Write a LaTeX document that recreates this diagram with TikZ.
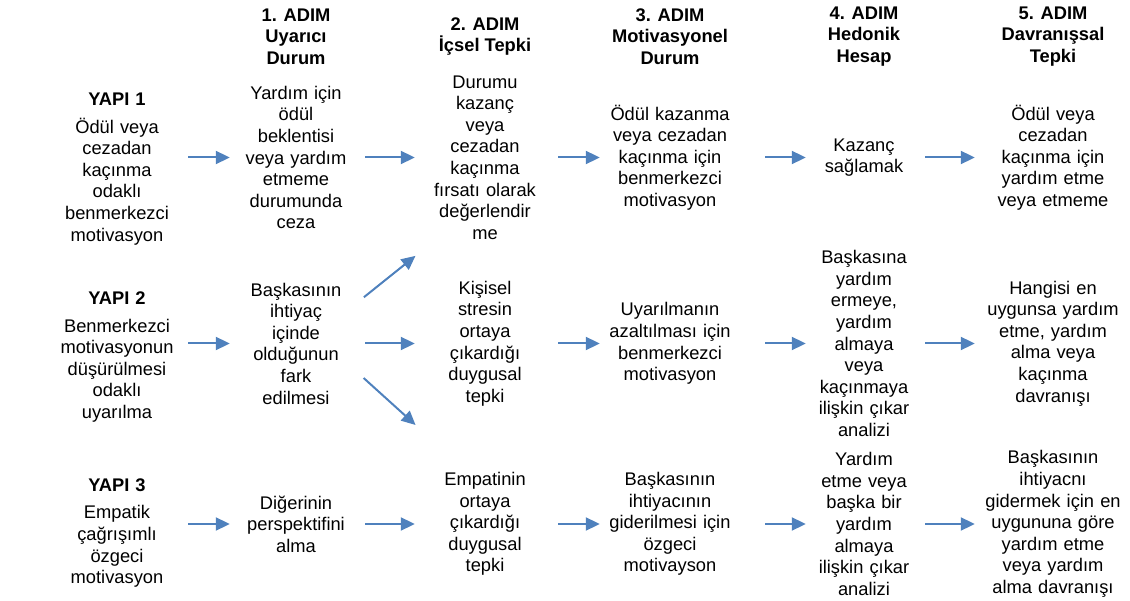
\documentclass[tikz,border=0pt]{standalone}
\usepackage{fontspec}
\setmainfont{Liberation Sans}
\usetikzlibrary{arrows.meta}
\definecolor{arrowblue}{RGB}{79,129,189}
\begin{document}
\begin{tikzpicture}[
	x=1pt,y=-1pt,
	font=\fontsize{18.3}{21.6}\selectfont,
	every node/.style={align=center,inner sep=0pt},
	hd/.style={font=\fontsize{18.3}{21.6}\selectfont\bfseries},
	w0/.style={text width=130pt},
	w1/.style={text width=126pt},
	w2/.style={text width=134pt},
	w3/.style={text width=134pt},
	w4/.style={text width=110pt},
	w5/.style={text width=150pt},
	ar/.style={draw=arrowblue,line width=2pt,-{Triangle[length=14pt,width=13pt]},shorten <=6pt,shorten >=3pt},
	]
\useasboundingbox (0,0) rectangle (1130,601);
\node [hd] (h1) at (296,36.5) {1. ADIM\\Uyarıcı\\Durum};
\node [hd] (h2) at (485,36.5) {2. ADIM\\İçsel Tepki};
\node [hd] (h3) at (670,36.5) {3. ADIM\\Motivasyonel\\Durum};
\node [hd] (h4) at (864,36.5) {4. ADIM\\Hedonik\\Hesap};
\node [hd] (h5) at (1053,36.5) {5. ADIM\\Davranışsal\\Tepki};

\node [w0] (y1) at (117,169) {\textbf{YAPI 1}\\[6pt]Ödül veya\\cezadan\\kaçınma\\odaklı\\benmerkezci\\motivasyon};
\node [w1] (a1) at (296,157.5) {Yardım için\\ödül\\beklentisi\\veya yardım\\etmeme\\durumunda\\ceza};
\node [w2] (a2) at (485,157.5) {Durumu\\kazanç\\veya\\cezadan\\kaçınma\\fırsatı olarak\\değerlendir\\me};
\node [w3] (a3) at (670,157.5) {Ödül kazanma\\veya cezadan\\kaçınma için\\benmerkezci\\motivasyon};
\node [w4] (a4) at (864,157.5) {Kazanç\\sağlamak};
\node [w5] (a5) at (1053,157.5) {Ödül veya\\cezadan\\kaçınma için\\yardım etme\\veya etmeme};

\node [w0] (y2) at (117,357) {\textbf{YAPI 2}\\[6pt]Benmerkezci\\motivasyonun\\düşürülmesi\\odaklı\\uyarılma};
\node [w1] (b1) at (296,343.5) {Başkasının\\ihtiyaç\\içinde\\olduğunun\\fark\\edilmesi};
\node [w2] (b2) at (485,343.5) {Kişisel\\stresin\\ortaya\\çıkardığı\\duygusal\\tepki};
\node [w3] (b3) at (670,343.5) {Uyarılmanın\\azaltılması için\\benmerkezci\\motivasyon};
\node [w4] (b4) at (864,343.5) {Başkasına\\yardım\\ermeye,\\yardım\\almaya\\veya\\kaçınmaya\\ilişkin çıkar\\analizi};
\node [w5] (b5) at (1053,343.5) {Hangisi en\\uygunsa yardım\\etme, yardım\\alma veya\\kaçınma\\davranışı};

\node [w0] (y3) at (117,533) {\textbf{YAPI 3}\\[6pt]Empatik\\çağrışımlı\\özgeci\\motivasyon};
\node [w1] (c1) at (296,524) {Diğerinin\\perspektifini\\alma};
\node [w2] (c2) at (485,524) {Empatinin\\ortaya\\çıkardığı\\duygusal\\tepki};
\node [w3] (c3) at (670,524) {Başkasının\\ihtiyacının\\giderilmesi için\\özgeci\\motivayson};
\node [w4] (c4) at (864,524) {Yardım\\etme veya\\başka bir\\yardım\\almaya\\ilişkin çıkar\\analizi};
\node [w5] (c5) at (1053,524) {Başkasının\\ihtiyacnı\\gidermek için en\\uygununa göre\\yardım etme\\veya yardım\\alma davranışı};

\draw [ar] (a1.west -| y1.east) -- (a1.west);
\draw [ar] (a1) -- (a2);
\draw [ar] (a2) -- (a3);
\draw [ar,shorten <=28pt] (a3) -- (a4);
\draw [ar] (a4) -- (a5);

\draw [ar] (b1.west -| y2.east) -- (b1.west);
\draw [ar] ([yshift=42.5pt]b1.east) -- ([yshift=89.5pt]b2.west);
\draw [ar] (b1) -- (b2);
\draw [ar] ([yshift=-30.5pt]b1.east) -- ([yshift=-83.5pt]b2.west);
\draw [ar] (b2) -- (b3);
\draw [ar,shorten <=28pt] (b3) -- (b4);
\draw [ar] (b4) -- (b5);

\draw [ar] (c1.west -| y3.east) -- (c1.west);
\draw [ar] (c1) -- (c2);
\draw [ar] (c2) -- (c3);
\draw [ar,shorten <=28pt] (c3) -- (c4);
\draw [ar] (c4) -- (c5);
\end{tikzpicture}
\end{document}
